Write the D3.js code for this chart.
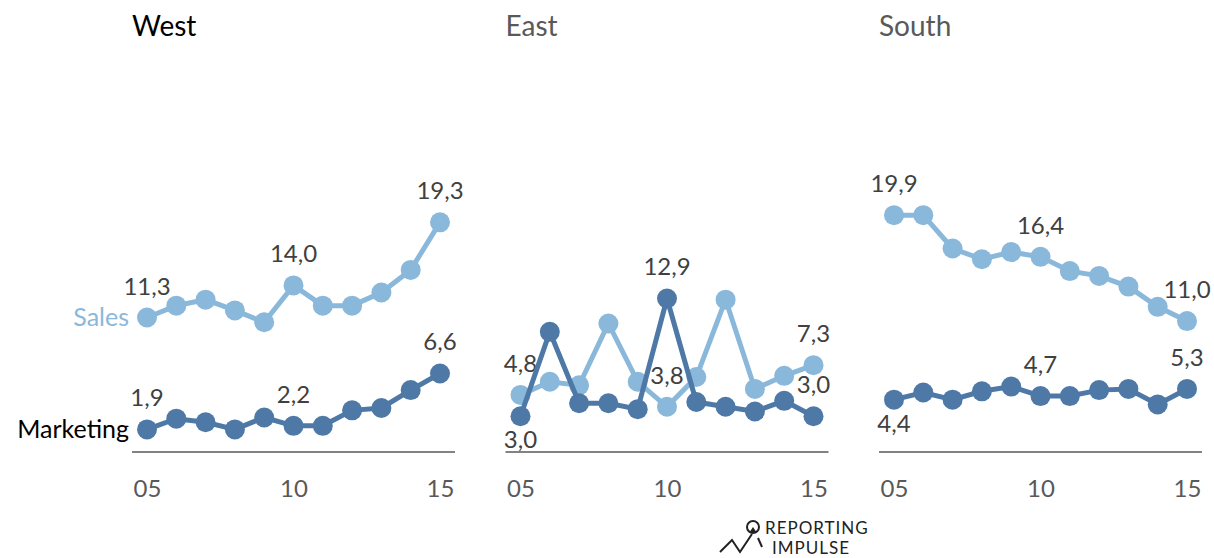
<!DOCTYPE html>
<html><head>
<meta charset="utf-8">
<script src="https://d3js.org/d3.v7.min.js"></script>
<style>
  body { margin: 0; background: #fff; }
  text { font-family: Lato, "Open Sans", sans-serif; }
</style>
</head>
<body>
<div id="container"></div>
<script>
// DATA
const regions = ["West", "East", "South"];
const years = [5, 6, 7, 8, 9, 10, 11, 12, 13, 14, 15];
const salesWest  = [11.3, 12.3, 12.8, 11.9, 10.9, 14.0, 12.3, 12.3, 13.4, 15.3, 19.3];
const mktWest    = [1.9, 2.8, 2.5, 1.9, 2.9, 2.2, 2.2, 3.5, 3.7, 5.2, 6.6];
const salesEast  = [4.8, 5.9, 5.6, 10.8, 5.9, 3.8, 6.3, 12.8, 5.3, 6.4, 7.3];
const mktEast    = [3.0, 10.1, 4.1, 4.1, 3.6, 12.9, 4.2, 3.8, 3.4, 4.3, 3.0];
const salesSouth = [19.9, 19.9, 17.1, 16.2, 16.8, 16.4, 15.2, 14.8, 13.9, 12.2, 11.0];
const mktSouth   = [4.4, 5.0, 4.4, 5.1, 5.5, 4.7, 4.7, 5.2, 5.3, 4.0, 5.3];
const tickYears = [5, 10, 15];
const labelIdx = [0, 5, 10];        // which points get a value label
// labels placed below the point instead of above
const belowLabels = { "East-Marketing-0": true, "South-Marketing-0": true };

const seriesByRegion = {
  West:  [{ name: "Sales", values: salesWest }, { name: "Marketing", values: mktWest }],
  East:  [{ name: "Sales", values: salesEast }, { name: "Marketing", values: mktEast }],
  South: [{ name: "Sales", values: salesSouth }, { name: "Marketing", values: mktSouth }]
};

const colors = { Sales: "#8ab8db", Marketing: "#4e79a7" };

const width = 1214, height = 558;
const svg = d3.select("#container").append("svg")
  .attr("width", width).attr("height", height);

const panelX = d3.scalePoint().domain(regions).range([147, 894]);
const x = d3.scaleLinear().domain([5, 15]).range([0, 293]);
const y = d3.scaleLinear().domain([0, 25]).range([452, 154.5]);
const fmt = v => d3.format(".1f")(v).replace(".", ",");

regions.forEach(region => {
  const g = svg.append("g").attr("transform", "translate(" + panelX(region) + ",0)");

  // title
  g.append("text")
    .attr("x", -15).attr("y", 36)
    .attr("font-size", 28)
    .attr("fill", region === "West" ? "#000" : "#595959")
    .text(region);

  // baseline
  g.append("line")
    .attr("x1", x(5) - 15).attr("x2", x(15) + 15)
    .attr("y1", y(0)).attr("y2", y(0))
    .attr("stroke", "#595959").attr("stroke-width", 1.5);

  // x axis
  const axis = g.append("g").attr("transform", "translate(0," + (y(0) + 25) + ")")
    .call(d3.axisBottom(x).tickValues(tickYears).tickSize(0).tickFormat(d3.format("02d")));
  axis.select(".domain").remove();
  axis.selectAll("text")
    .attr("font-size", 24).attr("fill", "#595959")
    .style("font-family", "Lato, 'Open Sans', sans-serif");

  seriesByRegion[region].forEach(s => {
    const pts = years.map((yr, i) => ({ yr: yr, v: s.values[i], i: i }));
    const line = d3.line().x(d => x(d.yr)).y(d => y(d.v));
    g.append("path").datum(pts)
      .attr("d", line)
      .attr("fill", "none")
      .attr("stroke", colors[s.name])
      .attr("stroke-width", 5);
    g.selectAll("circle." + s.name).data(pts).join("circle")
      .attr("class", s.name)
      .attr("cx", d => x(d.yr)).attr("cy", d => y(d.v))
      .attr("r", 10)
      .attr("fill", colors[s.name]);
    g.selectAll("text.lbl" + s.name).data(pts.filter(d => labelIdx.includes(d.i))).join("text")
      .attr("class", "lbl" + s.name)
      .attr("x", d => x(d.yr))
      .attr("y", d => belowLabels[region + "-" + s.name + "-" + d.i] ? y(d.v) + 32 : y(d.v) - 23)
      .attr("text-anchor", "middle")
      .attr("font-size", 24)
      .attr("fill", "#404040")
      .text(d => fmt(d.v));
  });

  // series names on the first panel
  if (region === "West") {
    seriesByRegion[region].forEach(s => {
      g.append("text")
        .attr("x", x(5) - 18).attr("y", y(s.values[0]))
        .attr("dy", "0.35em")
        .attr("text-anchor", "end")
        .attr("font-size", 25)
        .attr("fill", s.name === "Sales" ? colors.Sales : "#000")
        .text(s.name);
    });
  }
});

// logo
const logo = svg.append("g").attr("transform", "translate(720,516)");
logo.append("path")
  .attr("d", "M0,36 L12,24 L20,36 L32,18")
  .attr("fill", "none").attr("stroke", "#222").attr("stroke-width", 2);
logo.append("circle").attr("cx", 33).attr("cy", 11).attr("r", 6)
  .attr("fill", "none").attr("stroke", "#222").attr("stroke-width", 2);
logo.append("path").attr("d", "M29,17 L33,11 L37,17 Z").attr("fill", "#222");
logo.append("path").attr("d", "M38,22 L42,31")
  .attr("stroke", "#222").attr("stroke-width", 2);
logo.append("text").attr("x", 45).attr("y", 18)
  .attr("font-size", 17).attr("letter-spacing", 1).attr("fill", "#222")
  .text("REPORTING");
logo.append("text").attr("x", 52).attr("y", 38)
  .attr("font-size", 17).attr("letter-spacing", 1).attr("fill", "#222")
  .text("IMPULSE");
</script>
</body>
</html>
